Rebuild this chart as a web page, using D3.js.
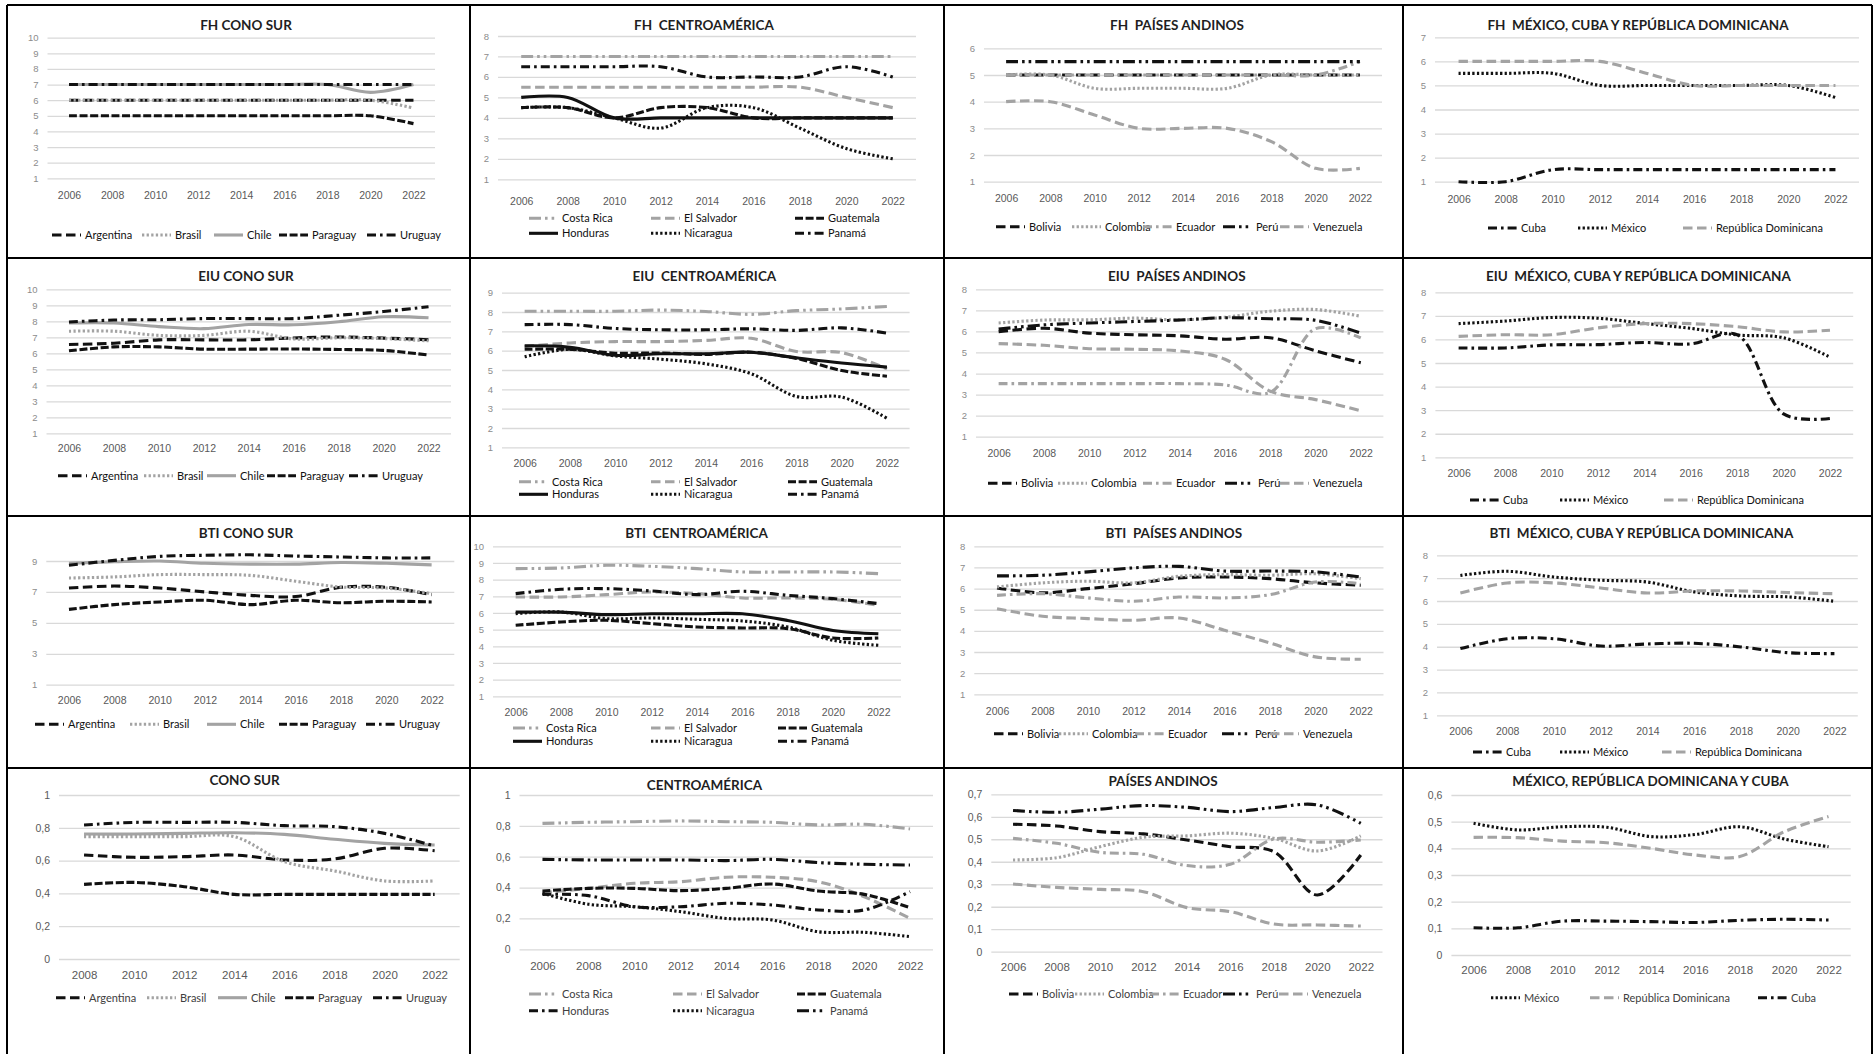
<!DOCTYPE html>
<html>
<head>
<meta charset="utf-8">
<script src="https://cdn.jsdelivr.net/npm/d3@7"></script>
<style>
  body { margin: 0; background: #fff; }
  svg { display: block; font-family: Lato, 'Open Sans', sans-serif; }
  .title { font-weight: bold; font-size: 13.5px; fill: #1f1f1f; white-space: pre; }
  .yaxis text { fill: #8c8c8c; font-size: 9.5px; }
  .xaxis text { fill: #595959; font-size: 10.5px; }
  .legend text { fill: #111; font-size: 11px; }
  .row4 .yaxis text { fill: #595959; font-size: 10.5px; }
  .row4 .xaxis text { font-size: 11.5px; }
  .row4 .legend text { fill: #404040; font-size: 11px; }
  .series { fill: none; stroke-width: 3.1; }
  .border { stroke: #000; stroke-width: 2; }
</style>
</head>
<body>
<svg id="chart" width="1874" height="1054"></svg>
<script>
// Categories
const years9 = ['2006', '2008', '2010', '2012', '2014', '2016', '2018', '2020', '2022'];
const years8 = years9.slice(1);

const conoSur = ['Argentina', 'Brasil', 'Chile', 'Paraguay', 'Uruguay'];
const centro = ['Costa Rica', 'El Salvador', 'Guatemala', 'Honduras', 'Nicaragua', 'Panamá'];
const andinos = ['Bolivia', 'Colombia', 'Ecuador', 'Perú', 'Venezuela'];
const caribe = ['Cuba', 'México', 'República Dominicana'];
const caribeIdx = ['México', 'República Dominicana', 'Cuba'];

// Freedom House (rows follow the country lists above)
const fhConoSur = [
  [6, 6, 6, 6, 6, 6, 6, 6, 6],
  [6, 6, 6, 6, 6, 6, 6, 6, 5.5],
  [7, 7, 7, 7, 7, 7, 7, 6.5, 7],
  [5, 5, 5, 5, 5, 5, 5, 5, 4.5],
  [7, 7, 7, 7, 7, 7, 7, 7, 7]
];
const fhCentro = [
  [7, 7, 7, 7, 7, 7, 7, 7, 7],
  [5.5, 5.5, 5.5, 5.5, 5.5, 5.5, 5.5, 5, 4.5],
  [4.5, 4.5, 4, 4.5, 4.5, 4, 4, 4, 4],
  [5, 5, 4, 4, 4, 4, 4, 4, 4],
  [4.5, 4.5, 4, 3.5, 4.5, 4.5, 3.5, 2.5, 2],
  [6.5, 6.5, 6.5, 6.5, 6, 6, 6, 6.5, 6]
];
const fhAndinos = [
  [5, 5, 5, 5, 5, 5, 5, 5, 5],
  [5, 5, 4.5, 4.5, 4.5, 4.5, 5, 5, 5],
  [5, 5, 5, 5, 5, 5, 5, 5, 5.5],
  [5.5, 5.5, 5.5, 5.5, 5.5, 5.5, 5.5, 5.5, 5.5],
  [4, 4, 3.5, 3, 3, 3, 2.5, 1.5, 1.5]
];
const fhCaribe = [
  [1, 1, 1.5, 1.5, 1.5, 1.5, 1.5, 1.5, 1.5],
  [5.5, 5.5, 5.5, 5, 5, 5, 5, 5, 4.5],
  [6, 6, 6, 6, 5.5, 5, 5, 5, 5]
];

// EIU
const eiuConoSur = [
  [6.55, 6.63, 6.84, 6.84, 6.84, 6.96, 7.02, 6.95, 6.85],
  [7.38, 7.38, 7.12, 7.12, 7.38, 6.90, 6.97, 6.92, 6.78],
  [7.89, 7.89, 7.67, 7.54, 7.80, 7.78, 7.97, 8.28, 8.22],
  [6.16, 6.40, 6.40, 6.26, 6.26, 6.27, 6.24, 6.18, 5.89],
  [7.96, 8.08, 8.10, 8.17, 8.17, 8.17, 8.38, 8.61, 8.91]
];
const eiuCentro = [
  [8.04, 8.04, 8.04, 8.10, 8.03, 7.88, 8.07, 8.16, 8.29],
  [6.22, 6.40, 6.47, 6.47, 6.53, 6.64, 5.96, 5.90, 5.06],
  [6.07, 6.07, 5.87, 5.88, 5.81, 5.92, 5.60, 4.97, 4.68],
  [6.25, 6.18, 5.76, 5.84, 5.84, 5.92, 5.63, 5.36, 5.15],
  [5.68, 6.07, 5.73, 5.56, 5.32, 4.81, 3.63, 3.60, 2.50],
  [7.35, 7.35, 7.15, 7.08, 7.08, 7.13, 7.05, 7.18, 6.91]
];
const eiuAndinos = [
  [5.98, 6.15, 5.92, 5.84, 5.79, 5.63, 5.70, 5.08, 4.51],
  [6.40, 6.54, 6.55, 6.63, 6.55, 6.67, 6.96, 7.04, 6.72],
  [3.52, 3.52, 3.52, 3.52, 3.52, 3.46, 3.10, 6.13, 5.69],
  [6.11, 6.31, 6.40, 6.47, 6.54, 6.65, 6.60, 6.53, 5.92],
  [5.42, 5.34, 5.18, 5.15, 5.07, 4.68, 3.16, 2.76, 2.23]
];
const eiuCaribe = [
  [5.64, 5.64, 5.77, 5.78, 5.87, 5.81, 6.20, 2.84, 2.65],
  [6.67, 6.78, 6.93, 6.90, 6.68, 6.47, 6.19, 6.07, 5.25],
  [6.13, 6.20, 6.20, 6.49, 6.67, 6.67, 6.54, 6.32, 6.39]
];

// BTI
const btiConoSur = [
  [7.25, 7.38, 7.25, 7.0, 6.78, 6.7, 7.3, 7.3, 6.82],
  [7.9, 7.97, 8.12, 8.12, 8.07, 7.69, 7.32, 7.25, 6.89],
  [8.85, 8.95, 9.0, 8.85, 8.8, 8.8, 8.9, 8.85, 8.75],
  [5.87, 6.18, 6.35, 6.46, 6.18, 6.46, 6.3, 6.4, 6.35],
  [8.72, 9.04, 9.3, 9.37, 9.4, 9.32, 9.26, 9.2, 9.2]
];
const btiCentro = [
  [8.66, 8.7, 8.86, 8.8, 8.66, 8.46, 8.46, 8.46, 8.36],
  [6.96, 6.96, 7.1, 7.26, 7.16, 6.9, 6.9, 6.82, 6.46],
  [5.26, 5.46, 5.56, 5.36, 5.16, 5.1, 5.06, 4.5, 4.5],
  [6.05, 6.05, 5.9, 5.95, 5.95, 5.95, 5.55, 4.95, 4.75],
  [5.96, 6.06, 5.66, 5.7, 5.62, 5.52, 5.16, 4.36, 4.06],
  [7.16, 7.42, 7.46, 7.32, 7.1, 7.3, 7.06, 6.86, 6.56]
];
const btiAndinos = [
  [6.03, 5.8, 6.0, 6.23, 6.5, 6.55, 6.47, 6.27, 6.16],
  [6.08, 6.27, 6.35, 6.27, 6.58, 6.66, 6.63, 6.7, 6.47],
  [5.68, 5.76, 5.56, 5.4, 5.6, 5.56, 5.71, 6.31, 6.23],
  [6.6, 6.63, 6.79, 6.98, 7.05, 6.83, 6.83, 6.79, 6.55],
  [5.05, 4.69, 4.58, 4.5, 4.61, 4.03, 3.43, 2.77, 2.66]
];
const btiCaribe = [
  [3.92, 4.35, 4.35, 4.03, 4.12, 4.15, 3.99, 3.74, 3.7],
  [7.12, 7.3, 7.05, 6.91, 6.83, 6.4, 6.22, 6.18, 5.99],
  [6.35, 6.79, 6.79, 6.57, 6.35, 6.44, 6.44, 6.37, 6.32]
];

// Combined index (0-1)
const idxConoSur = [
  [0.634, 0.62, 0.624, 0.634, 0.604, 0.61, 0.675, 0.66],
  [0.746, 0.746, 0.746, 0.746, 0.593, 0.537, 0.476, 0.476],
  [0.762, 0.762, 0.766, 0.77, 0.76, 0.73, 0.705, 0.695],
  [0.455, 0.467, 0.441, 0.394, 0.394, 0.394, 0.394, 0.394],
  [0.817, 0.833, 0.833, 0.833, 0.813, 0.807, 0.766, 0.689]
];
const idxCentro = [
  [0.816, 0.823, 0.827, 0.832, 0.827, 0.823, 0.806, 0.81, 0.78],
  [0.367, 0.395, 0.428, 0.438, 0.467, 0.467, 0.438, 0.341, 0.2],
  [0.378, 0.395, 0.395, 0.38, 0.395, 0.423, 0.378, 0.356, 0.27],
  [0.356, 0.348, 0.276, 0.276, 0.298, 0.287, 0.255, 0.255, 0.374],
  [0.363, 0.292, 0.276, 0.244, 0.2, 0.19, 0.114, 0.11, 0.082],
  [0.583, 0.579, 0.579, 0.579, 0.575, 0.583, 0.562, 0.551, 0.546]
];
const idxAndinos = [
  [0.567, 0.559, 0.534, 0.524, 0.497, 0.467, 0.445, 0.252, 0.43],
  [0.408, 0.418, 0.467, 0.509, 0.515, 0.527, 0.504, 0.448, 0.515],
  [0.504, 0.482, 0.442, 0.433, 0.383, 0.389, 0.501, 0.487, 0.497],
  [0.628, 0.62, 0.634, 0.65, 0.642, 0.623, 0.641, 0.653, 0.571],
  [0.301, 0.286, 0.277, 0.267, 0.196, 0.178, 0.123, 0.119, 0.114]
];
const idxCaribe = [
  [0.494, 0.469, 0.481, 0.479, 0.444, 0.452, 0.481, 0.435, 0.406],
  [0.441, 0.44, 0.427, 0.421, 0.4, 0.375, 0.369, 0.462, 0.519],
  [0.102, 0.102, 0.127, 0.127, 0.125, 0.122, 0.13, 0.134, 0.131]
];

const panels = [
  {title: 'FH CONO SUR', names: conoSur, values: fhConoSur, cats: years9},
  {title: 'FH  CENTROAMÉRICA', names: centro, values: fhCentro, cats: years9},
  {title: 'FH  PAÍSES ANDINOS', names: andinos, values: fhAndinos, cats: years9},
  {title: 'FH  MÉXICO, CUBA Y REPÚBLICA DOMINICANA', names: caribe, values: fhCaribe, cats: years9},
  {title: 'EIU CONO SUR', names: conoSur, values: eiuConoSur, cats: years9},
  {title: 'EIU  CENTROAMÉRICA', names: centro, values: eiuCentro, cats: years9},
  {title: 'EIU  PAÍSES ANDINOS', names: andinos, values: eiuAndinos, cats: years9},
  {title: 'EIU  MÉXICO, CUBA Y REPÚBLICA DOMINICANA', names: caribe, values: eiuCaribe, cats: years9},
  {title: 'BTI CONO SUR', names: conoSur, values: btiConoSur, cats: years9},
  {title: 'BTI  CENTROAMÉRICA', names: centro, values: btiCentro, cats: years9},
  {title: 'BTI  PAÍSES ANDINOS', names: andinos, values: btiAndinos, cats: years9},
  {title: 'BTI  MÉXICO, CUBA Y REPÚBLICA DOMINICANA', names: caribe, values: btiCaribe, cats: years9},
  {title: 'CONO SUR', names: conoSur, values: idxConoSur, cats: years8},
  {title: 'CENTROAMÉRICA', names: centro, values: idxCentro, cats: years9},
  {title: 'PAÍSES ANDINOS', names: andinos, values: idxAndinos, cats: years9},
  {title: 'MÉXICO, REPÚBLICA DOMINICANA Y CUBA', names: caribeIdx, values: idxCaribe, cats: years9}
];

// Where each panel sits on the page (pixels)
// band: x range of the categories, dom/rng: y scale, ticks: y tick values,
// title: centre of the title, xl: y of the year labels, leg: legend text x and row y
const r1 = d3.range(1, 11);
const layout = [
  {band: [47.5, 435], dom: [1, 10], rng: [178.3, 37.7], ticks: r1, title: [246, 25], xl: 195,
   leg: {x: [85, 175, 247, 312, 400], y: [235]}},
  {band: [498, 916], dom: [1, 8], rng: [179.3, 36], ticks: r1.slice(0, 8), title: [704, 25], xl: 201.7,
   leg: {x: [562, 684, 828], y: [218.3, 233.3]}},
  {band: [984, 1382], dom: [1, 6], rng: [181.7, 48.3], ticks: r1.slice(0, 6), title: [1177, 25], xl: 198,
   leg: {x: [1029, 1105, 1176, 1256, 1313], y: [226.7]}},
  {band: [1435, 1859], dom: [1, 7], rng: [181.7, 37.3], ticks: r1.slice(0, 7), title: [1638, 25], xl: 199.3,
   leg: {x: [1521, 1611, 1716], y: [228]}},

  {band: [46.5, 451], dom: [1, 10], rng: [433.3, 289.3], ticks: r1, title: [246, 276.7], xl: 448.3,
   leg: {x: [91, 177, 240, 300, 382], y: [475.7]}},
  {band: [502, 909.6], dom: [1, 9], rng: [447.3, 292.7], ticks: r1.slice(0, 9), title: [704.4, 276.7], xl: 463.3,
   leg: {x: [552, 684, 821], y: [481.7, 494.3]}},
  {band: [976, 1383.4], dom: [1, 8], rng: [436.7, 289.3], ticks: r1.slice(0, 8), title: [1176.8, 276.7], xl: 453.3,
   leg: {x: [1021, 1091, 1176, 1258, 1313], y: [483.3]}},
  {band: [1435.4, 1853.2], dom: [1, 8], rng: [457.3, 292.3], ticks: r1.slice(0, 8), title: [1638.4, 276.7], xl: 473.3,
   leg: {x: [1503, 1593, 1697], y: [500]}},

  {band: [46.3, 454.3], dom: [1, 9], rng: [684.7, 561], ticks: [1, 3, 5, 7, 9], title: [246, 533.7], xl: 700.3,
   leg: {x: [68, 163, 240, 312, 399], y: [724.3]}},
  {band: [493, 901], dom: [1, 10], rng: [696.3, 546.3], ticks: r1, title: [696.6, 533.7], xl: 712,
   leg: {x: [546, 684, 811], y: [728, 741.3]}},
  {band: [974.3, 1383.5], dom: [1, 8], rng: [694.3, 546.3], ticks: r1.slice(0, 8), title: [1173.8, 533.7], xl: 711.3,
   leg: {x: [1027, 1092, 1168, 1255, 1303], y: [733.7]}},
  {band: [1437, 1857.8], dom: [1, 8], rng: [715.3, 555.3], ticks: r1.slice(0, 8), title: [1641.4, 533.7], xl: 731.3,
   leg: {x: [1506, 1593, 1695], y: [752]}},

  {band: [59, 459.7], dom: [0, 1], rng: [959, 795], ticks: d3.range(0, 1.01, 0.2), title: [244.6, 780], xl: 975,
   leg: {x: [89, 180, 251, 318, 406], y: [997.7]}},
  {band: [519.5, 933], dom: [0, 1], rng: [949.3, 795], ticks: d3.range(0, 1.01, 0.2), title: [704.4, 785.7], xl: 966,
   leg: {x: [562, 706, 830], y: [994, 1010.7]}},
  {band: [991.3, 1382.5], dom: [0, 0.7], rng: [951.7, 794.3], ticks: d3.range(0, 0.71, 0.1), title: [1163, 781.7], xl: 966.7,
   leg: {x: [1042, 1108, 1183, 1256, 1312], y: [994]}},
  {band: [1451.4, 1850.7], dom: [0, 0.6], rng: [955, 795], ticks: d3.range(0, 0.61, 0.1), title: [1650.4, 781.7], xl: 970,
   leg: {x: [1524, 1623, 1791], y: [997.7]}}
];

// Line styles
const BLACK = '#111111';
const GREY = '#a3a3a3';
const LDASH = '9.5,4.5';
const DASH = '8,2.6';
const DOT = '2.3,2.3';
const DASHDOT = '9,4,2.6,4';
const LDDD = '12,4,2.6,4,2.6,4';
const styles = {
  'Argentina': [BLACK, LDASH], 'Brasil': [GREY, DOT], 'Chile': [GREY, null],
  'Paraguay': [BLACK, DASH], 'Uruguay': [BLACK, DASHDOT],
  'Costa Rica': [GREY, LDDD], 'El Salvador': [GREY, LDASH], 'Guatemala': [BLACK, DASH],
  'Honduras': [BLACK, null], 'Nicaragua': [BLACK, DOT], 'Panamá': [BLACK, DASHDOT],
  'Bolivia': [BLACK, LDASH], 'Colombia': [GREY, DOT], 'Ecuador': [GREY, DASHDOT],
  'Perú': [BLACK, LDDD], 'Venezuela': [GREY, LDASH],
  'Cuba': [BLACK, DASHDOT], 'México': [BLACK, DOT], 'República Dominicana': [GREY, LDASH]
};
// the last row draws Honduras and Panamá differently
const row4Styles = {'Honduras': [BLACK, DASHDOT], 'Panamá': [BLACK, LDDD]};

function styleOf(name, row) {
  return (row === 3 && row4Styles[name]) || styles[name];
}

const svg = d3.select('#chart');

function drawPanel(p, L, idx) {
  const row = Math.floor(idx / 4);
  const g = svg.append('g').attr('class', row === 3 ? 'row4' : 'row');
  const x = d3.scalePoint().domain(p.cats).range(L.band).padding(0.5);
  const y = d3.scaleLinear().domain(L.dom).range(L.rng);
  const fmt = row === 3 ? (d => d3.format('.1~f')(d).replace('.', ',')) : d3.format('d');

  // Gridlines and y labels
  const ya = g.append('g')
    .attr('class', 'yaxis')
    .attr('transform', `translate(${L.band[0]},0)`)
    .call(d3.axisLeft(y)
          .tickValues(L.ticks)
          .tickSize(-(L.band[1] - L.band[0]))
          .tickPadding(9)
          .tickFormat(fmt));
  ya.select('.domain').remove();
  ya.selectAll('.tick line').attr('stroke', '#d9d9d9').attr('stroke-width', 1.3);

  // Year labels
  const xa = g.append('g')
    .attr('class', 'xaxis')
    .attr('transform', `translate(0,${L.xl})`)
    .call(d3.axisBottom(x).tickSize(0).tickPadding(0));
  xa.select('.domain').remove();
  xa.selectAll('text').attr('y', 0).attr('dy', '0.35em');

  // Title
  g.append('text')
    .attr('class', 'title')
    .attr('x', L.title[0])
    .attr('y', L.title[1])
    .attr('dy', '0.35em')
    .attr('text-anchor', 'middle')
    .text(p.title);

  // Series
  const line = d3.line()
    .x((d, i) => x(p.cats[i]))
    .y(d => y(d))
    .curve(d3.curveCatmullRom.alpha(0.5));
  g.append('g')
    .selectAll('path')
    .data(p.values)
    .enter().append('path')
    .attr('class', 'series')
    .attr('stroke', (_, i) => styleOf(p.names[i], row)[0])
    .attr('stroke-dasharray', (_, i) => styleOf(p.names[i], row)[1])
    .attr('d', line);

  // Legend
  const ncol = L.leg.x.length;
  const item = g.append('g')
    .attr('class', 'legend')
    .selectAll('g')
    .data(p.names)
    .enter().append('g')
    .attr('transform', (_, i) =>
          `translate(${L.leg.x[i % ncol]},${L.leg.y[Math.floor(i / ncol)]})`);
  item.append('line')
    .attr('class', 'series')
    .attr('x1', -33)
    .attr('x2', -4)
    .attr('stroke', d => styleOf(d, row)[0])
    .attr('stroke-dasharray', d => styleOf(d, row)[1]);
  item.append('text')
    .attr('dy', '0.35em')
    .text(d => d);
}

panels.forEach((p, i) => drawPanel(p, layout[i], i));

// Table borders
const vx = [7, 470, 944, 1403, 1872];
const hy = [5, 258, 516, 768];
svg.append('g')
  .selectAll('line')
  .data(vx)
  .enter().append('line')
  .attr('class', 'border')
  .attr('x1', d => d).attr('x2', d => d)
  .attr('y1', hy[0]).attr('y2', 1054);
svg.append('g')
  .selectAll('line')
  .data(hy)
  .enter().append('line')
  .attr('class', 'border')
  .attr('x1', vx[0]).attr('x2', vx[vx.length - 1])
  .attr('y1', d => d).attr('y2', d => d);
</script>
</body>
</html>
